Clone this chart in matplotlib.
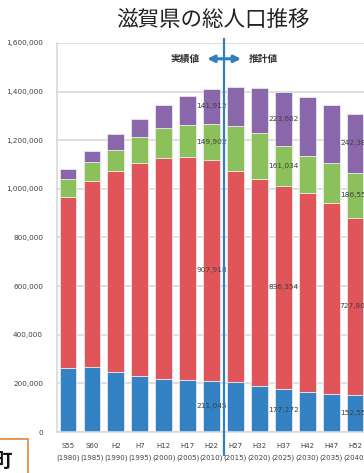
import matplotlib
matplotlib.use("Agg")
import matplotlib.pyplot as plt
from matplotlib import font_manager
from matplotlib.patches import Rectangle, FancyArrowPatch

# Population by age group (people)
periods = ["S55", "S60", "H2", "H7", "H12", "H17", "H22",
           "H27", "H32", "H37", "H42", "H47", "H52"]
years = ["1980", "1985", "1990", "1995", "2000", "2005", "2010",
         "2015", "2020", "2025", "2030", "2035", "2040"]
age_0_14 = [263000, 269000, 248000, 230000, 218000, 214000, 211045,
            205000, 191000, 177272, 163000, 156000, 152553]
age_15_64 = [704000, 763000, 826000, 876000, 908000, 916000, 907918,
             870000, 851000, 836354, 819000, 785000, 727803]
age_65_74 = [74000, 79000, 85000, 107000, 126000, 132000, 149902,
             184000, 187000, 161034, 154000, 165000, 186553]
age_75_plus = [41000, 45000, 66000, 74000, 91000, 118000, 141912,
               162000, 184000, 223662, 240000, 241000, 242383]
labelled = ["H22", "H37", "H52"]

jp = ["Noto Sans CJK JP", "DejaVu Sans"]
names = {f.name for f in font_manager.fontManager.ttflist}
narrow = ["Liberation Sans Narrow", "DejaVu Sans"] if "Liberation Sans Narrow" in names else ["DejaVu Sans"]
plt.rcParams["font.family"] = jp

W, H = 364, 473
fig = plt.figure(figsize=(W / 100, H / 100), dpi=100)
fig.patch.set_facecolor("white")

x_left, x_right_px = 57, 391
ax = fig.add_axes([x_left / W, (H - 432) / H, (x_right_px - x_left) / W, (432 - 43) / H])

colors = ["#3383c4", "#e0555a", "#8cc05a", "#8a66ab"]
series = [age_0_14, age_15_64, age_65_74, age_75_plus]
xs = list(range(len(periods)))
bottom = [0] * len(periods)
for vals, c in zip(series, colors):
    ax.bar(xs, vals, width=0.7, bottom=bottom, color=c,
           edgecolor="#e8e8e8", linewidth=0.6, zorder=2)
    for i, p in enumerate(periods):
        if p in labelled:
            ax.text(i, bottom[i] + vals[i] / 2, f"{vals[i]:,}", ha="center", va="center",
                    fontsize=5.3, color="#404040", family=narrow, zorder=4)
    bottom = [b + v for b, v in zip(bottom, vals)]

ax.set_xlim(-0.46, 13.5)
ax.set_ylim(0, 1600000)
ax.set_yticks(range(0, 1600001, 200000))
ax.set_yticklabels([f"{v:,}" for v in range(0, 1600001, 200000)],
                   fontsize=5.2, color="#404040", family=narrow)
ax.set_xticks(xs)
ax.set_xticklabels([f"{p}\n({y})" for p, y in zip(periods, years)],
                   fontsize=5.0, color="#404040", family=narrow, linespacing=2.0)
ax.tick_params(axis="both", length=0)
ax.tick_params(axis="x", pad=8)
ax.tick_params(axis="y", pad=10)
ax.grid(axis="y", color="#d9d9d9", linewidth=1.2, zorder=0)
ax.set_axisbelow(True)
for s in ["top", "right"]:
    ax.spines[s].set_visible(False)
ax.spines["left"].set_color("#d9d9d9")
ax.spines["left"].set_linewidth(1.2)
ax.spines["bottom"].set_color("#d9d9d9")
ax.spines["bottom"].set_linewidth(1.2)

# Divider between recorded and projected values
div_x = 6.53
ax.plot([div_x, div_x], [-95000, 1617000], color="#2f7fc1", linewidth=1.6,
        clip_on=False, zorder=5)
arrow = FancyArrowPatch((5.7, 1535000), (7.35, 1535000), arrowstyle="<|-|>",
                        mutation_scale=10, color="#2f7fc1", linewidth=2.2,
                        clip_on=False, zorder=5)
ax.add_patch(arrow)
ax.text(5.5, 1535000, "実績値", ha="right", va="center", fontsize=7,
        color="#333333", fontweight="bold", zorder=5)
ax.text(7.55, 1535000, "推計値", ha="left", va="center", fontsize=7,
        color="#333333", fontweight="bold", zorder=5)

fig.text(213 / W, 1 - 20 / H, "滋賀県の総人口推移", ha="center", va="center",
         fontsize=15.5, color="#222222", fontweight="normal")

# Neighbouring panel at lower left
fig.patches.append(Rectangle((-60 / W, -20 / H), 88 / W, (H - 439 + 20) / H,
                             transform=fig.transFigure, facecolor="white",
                             edgecolor="#e8823f", linewidth=1.2, zorder=6))
fig.text(2 / W, 1 - 461 / H, "町", ha="center", va="center", fontsize=14,
         color="#111111", fontweight="bold", zorder=7)

fig.savefig("out.png", dpi=100, facecolor="white")
